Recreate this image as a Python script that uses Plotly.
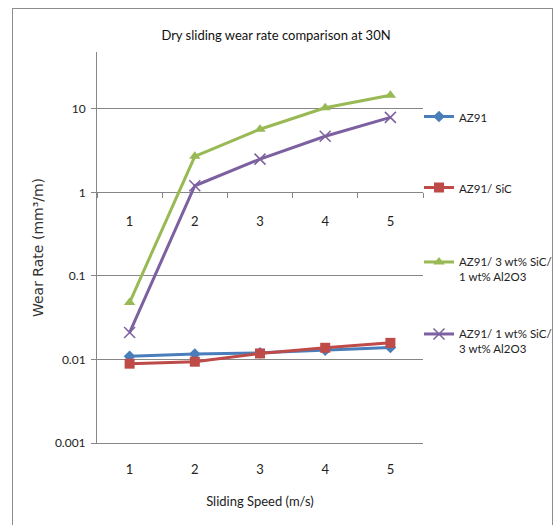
import plotly.graph_objects as go

speeds = [1, 2, 3, 4, 5]
speed_labels = ["1", "2", "3", "4", "5"]
az91 = [0.0109, 0.0116, 0.0120, 0.0129, 0.0139]
az91_sic = [0.0089, 0.0094, 0.0118, 0.0138, 0.0158]
az91_3sic_1al = [0.048, 2.7, 5.7, 10.3, 14.5]
az91_1sic_3al = [0.021, 1.2, 2.5, 4.7, 7.9]
y_ticks = [0.001, 0.01, 0.1, 1, 10]
y_tick_text = ["0.001", "0.01", "0.1", "1", "10"]

names = ["AZ91", "AZ91/ SiC", "AZ91/ 3 wt% SiC/<br>1 wt% Al2O3", "AZ91/ 1 wt% SiC/<br>3 wt% Al2O3"]
colors = ["#4A7EBB", "#BE4B48", "#98B954", "#7D60A0"]
symbols = ["diamond", "square", "triangle-up", "x-thin-open"]
msizes = [9, 10, 10, 11]
series = [az91, az91_sic, az91_3sic_1al, az91_1sic_3al]
legend_ids = ["legend", "legend2", "legend3", "legend4"]

FONT = "Lato, 'Open Sans', sans-serif"
GRID = "#878787"

# body margin is removed by the post script, so figure pixels == screen pixels
L, R, T, B = 97, 423, 52, 443
W, H = 557, 525
PW, PH = R - L, B - T
ymin, ymax = -3, 1.68

def px_x(p):
    return (p - L) / PW

def px_y(p):
    return (B - p) / PH

fig = go.Figure()
for name, c, s, ms, ys, lg in zip(names, colors, symbols, msizes, series, legend_ids):
    mk = dict(symbol=s, size=ms, color=c)
    if s == "x-thin-open":
        mk["line"] = dict(color=c, width=1.5)
    fig.add_trace(go.Scatter(
        x=speeds, y=ys, name=name, mode="lines+markers",
        line=dict(color=c, width=3), marker=mk, legend=lg,
    ))

# helper trace for the secondary category axis crossing at y=1
fig.add_trace(go.Scatter(
    x=speed_labels, y=[1] * 5, xaxis="x2", yaxis="y", mode="markers",
    marker=dict(opacity=0), showlegend=False, hoverinfo="skip",
))

pos_y1 = (0 - ymin) / (ymax - ymin)

legend_centers = [117, 188, 269.5, 341.5]
leg_common = dict(
    x=px_x(419), xanchor="left", yanchor="middle",
    font=dict(family=FONT, size=11.5, color="#222222"),
    bgcolor="rgba(0,0,0,0)", valign="top", itemwidth=30,
)

layout_legends = {}
for lg, cy in zip(legend_ids, legend_centers):
    layout_legends[lg] = dict(leg_common, y=px_y(cy))

fig.update_layout(
    width=W, height=H,
    margin=dict(l=L, r=W - R, t=T, b=H - B, autoexpand=False),
    paper_bgcolor="white", plot_bgcolor="white",
    title=dict(
        text="Dry sliding wear rate comparison at 30N",
        x=276 / W, xref="container", xanchor="center",
        y=1 - 35 / H, yref="container", yanchor="middle",
        font=dict(family=FONT, size=13, color="#111111"),
    ),
    xaxis=dict(
        range=[0.5, 5.5], tickvals=speeds, ticktext=speed_labels,
        showgrid=False, zeroline=False, showline=True, linecolor=GRID,
        ticks="", ticklabelstandoff=14,
        tickfont=dict(family=FONT, size=13, color="#222222"),
        title=dict(text="Sliding Speed (m/s)", standoff=21,
                   font=dict(family=FONT, size=13, color="#222222")),
    ),
    xaxis2=dict(
        type="category", overlaying="x", anchor="free", position=pos_y1,
        categoryorder="array", categoryarray=speed_labels,
        range=[-0.5, 4.5], tickson="boundaries", ticks="outside", ticklen=5,
        tickcolor=GRID, showline=False, showgrid=False, zeroline=False,
        ticklabelstandoff=20,
        tickfont=dict(family=FONT, size=13, color="#222222"),
    ),
    yaxis=dict(
        type="log", range=[ymin, ymax], tickvals=y_ticks, ticktext=y_tick_text,
        showgrid=True, gridcolor=GRID, gridwidth=1,
        showline=True, linecolor=GRID, ticks="outside", ticklen=5, tickcolor=GRID,
        zeroline=False, ticklabelstandoff=3,
        tickfont=dict(family=FONT, size=12, color="#222222"),
        title=dict(text="Wear Rate (mm³/m)", standoff=8,
                   font=dict(family="DejaVu Sans", size=14, color="#333333")),
    ),
    **layout_legends,
    annotations=[dict(
        # chart-area frame drawn as an empty bordered box
        text="", showarrow=False, xref="paper", yref="paper",
        x=px_x(282.5), y=px_y(7.5), xanchor="center", yanchor="top",
        width=539, height=560, borderpad=0, borderwidth=1,
        bordercolor="#8C8C8C", bgcolor="rgba(0,0,0,0)",
    )],
)

fig.write_html(
    "out.html",
    config={"displayModeBar": False},
    post_script="document.body.style.margin='0';document.body.style.overflow='hidden';",
)
